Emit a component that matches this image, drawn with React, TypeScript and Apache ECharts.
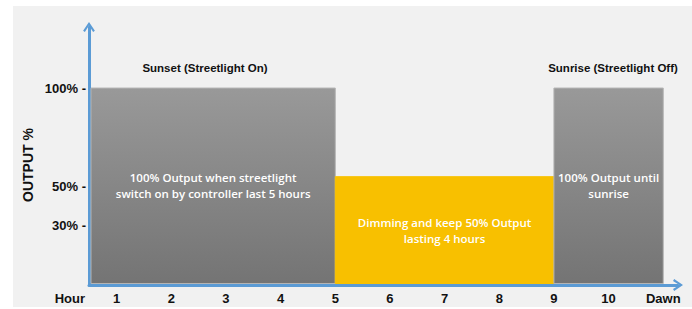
import React, { useEffect, useRef } from "react";
import * as echarts from "echarts";

// Timeline segments (hours) and output %
const segmentStart = [0, 5, 9];
const segmentEnd = [5, 9, 11];
const segmentOutput = [100, 55, 100];
const segmentNotes = [
  "100% Output when streetlight\nswitch on by controller last 5 hours",
  "Dimming and keep 50% Output\nlasting 4 hours",
  "100% Output until\nsunrise",
];

const hourTicks = [1, 2, 3, 4, 5, 6, 7, 8, 9, 10, 11];
const hourLabels = ["1", "2", "3", "4", "5", "6", "7", "8", "9", "10", "Dawn"];
const outputTicks = [30, 50, 100];

const BLUE = "#5b9bd5";
const arrowPath = "path://M0,9 L6,0 L12,9 L10.2,10.2 L6,3.6 L1.8,10.2 Z";
const BOLD_FONT = "'Liberation Sans', Arial, sans-serif";

export default function App() {
  const ref = useRef<HTMLDivElement>(null);

  useEffect(() => {
    if (!ref.current) return;
    const chart = echarts.init(ref.current, null, { renderer: "svg" });
    const grayFill = new echarts.graphic.LinearGradient(0, 0, 0, 1, [
      { offset: 0, color: "#999999" },
      { offset: 1, color: "#747474" },
    ]);
    const yellowFill = "#f8c000";

    const data = segmentStart.map((s, i) => [s, segmentEnd[i], segmentOutput[i], i]);

    chart.setOption({
      animation: false,
      backgroundColor: "#ffffff",
      grid: { left: 89, right: 14, top: 27, bottom: 24, containLabel: false },
      graphic: [
        {
          type: "rect",
          z: -10,
          silent: true,
          shape: { x: 13, y: 6, width: 679, height: 301 },
          style: { fill: "#f1f1f1" },
        },
        {
          type: "text",
          x: 205,
          y: 68,
          style: {
            text: "Sunset (Streetlight On)",
            fill: "#111",
            font: `bold 11.5px ${BOLD_FONT}`,
            align: "center",
            verticalAlign: "middle",
          },
        },
        {
          type: "text",
          x: 613,
          y: 68,
          style: {
            text: "Sunrise (Streetlight Off)",
            fill: "#111",
            font: `bold 11.5px ${BOLD_FONT}`,
            align: "center",
            verticalAlign: "middle",
          },
        },
        {
          type: "text",
          x: 28,
          y: 165,
          rotation: Math.PI / 2,
          style: {
            text: "OUTPUT %",
            fill: "#111",
            font: `bold 14px ${BOLD_FONT}`,
            align: "center",
            verticalAlign: "middle",
          },
        },
      ],
      xAxis: {
        type: "value",
        min: 0.494,
        max: 11.27,
        name: "Hour",
        nameLocation: "start",
        nameGap: 4,
        nameTextStyle: {
          color: "#111",
          fontWeight: "bold",
          fontSize: 13,
          fontFamily: BOLD_FONT,
          verticalAlign: "top",
          padding: [7, 0, 0, 0],
        },
        axisLine: {
          show: true,
          symbol: ["none", arrowPath],
          symbolSize: [13, 10],
          lineStyle: { color: BLUE, width: 3 },
        },
        axisTick: { show: false },
        splitLine: { show: false },
        axisLabel: {
          customValues: hourTicks,
          margin: 7,
          color: "#111",
          fontWeight: "bold",
          fontSize: 13,
          fontFamily: BOLD_FONT,
          formatter: (v: number) => hourLabels[hourTicks.indexOf(Math.round(v))] ?? "",
        },
      },
      yAxis: {
        type: "value",
        min: 0,
        max: 131,
        axisLine: {
          show: true,
          symbol: ["none", arrowPath],
          symbolSize: [13, 10],
          lineStyle: { color: BLUE, width: 3 },
        },
        axisTick: { show: false },
        splitLine: { show: false },
        axisLabel: {
          customValues: outputTicks,
          margin: 3,
          color: "#111",
          fontWeight: "bold",
          fontSize: 13,
          fontFamily: BOLD_FONT,
          formatter: (v: number) => `${v}% -`,
        },
      },
      series: [
        {
          type: "custom",
          data,
          encode: { x: [0, 1], y: 2 },
          renderItem: (params: any, api: any) => {
            const s = api.value(0);
            const e = api.value(1);
            const v = api.value(2);
            const idx = api.value(3);
            const p0 = api.coord([s, v]);
            const p1 = api.coord([e, 0]);
            const cs = params.coordSys;
            const x0 = Math.max(p0[0], cs.x + 2);
            const isFull = v >= 100;
            return {
              type: "rect",
              shape: {
                x: x0,
                y: p0[1],
                width: p1[0] - x0,
                height: p1[1] - p0[1] - 1.5,
              },
              style: {
                fill: isFull ? grayFill : yellowFill,
                stroke: isFull ? "#b4b4b4" : yellowFill,
                lineWidth: 1,
              },
              textContent: {
                style: {
                  text: segmentNotes[idx],
                  fill: "#ffffff",
                  font: "600 11.5px 'Open Sans', sans-serif",
                  lineHeight: 16,
                  align: "center",
                  verticalAlign: "middle",
                },
              },
              textConfig: { position: "inside" },
            };
          },
        },
      ],
    });

    return () => chart.dispose();
  }, []);

  return (
    <div
      ref={ref}
      style={{ position: "absolute", left: 0, top: 0, width: 692, height: 309 }}
    />
  );
}
